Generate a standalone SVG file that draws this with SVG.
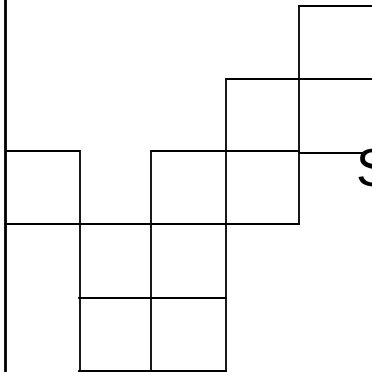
<svg xmlns="http://www.w3.org/2000/svg" width="372" height="372" viewBox="0 0 372 372">
<style>
.g{fill:none;stroke:#000;stroke-width:1.8;stroke-linecap:square}
.t{font-family:"Liberation Sans",Arial,sans-serif;fill:#000}
</style>
<rect width="372" height="372" fill="#fff"/>
<g id="border"><line x1="5.5" y1="0" x2="5.5" y2="372" stroke="#000" stroke-width="2.8"/></g>
<g id="grid" class="g">
<path d="M6 151H80V372M6 224H299M151 151H299M79 298H226M79 371H226"/>
<path d="M151 151V371M226 79V371M299 6V224"/>
<path d="M226 79H372M299 6H372M299 153H362"/>
</g>
<g id="label"><text class="t" x="356" y="186" font-size="53">S</text></g>
</svg>
